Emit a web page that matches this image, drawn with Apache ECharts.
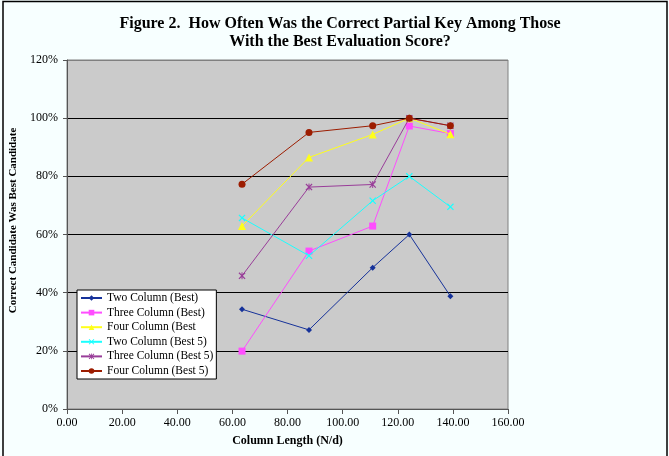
<!DOCTYPE html>
<html>
<head>
<meta charset="utf-8">
<script src="https://cdn.jsdelivr.net/npm/echarts@6/dist/echarts.min.js"></script>
<style>
html,body{margin:0;padding:0;background:#f7ffff;}
#chart{width:669px;height:456px;}
</style>
</head>
<body>
<div id="chart"></div>
<script>
const titleText = 'Figure 2.  How Often Was the Correct Partial Key Among Those\nWith the Best Evaluation Score?';
const xName = 'Column Length (N/d)';
const yName = 'Correct Candidate Was Best Candidate';
const columnLengths = [63.5, 87.8, 110.9, 124.2, 139.1];
const seriesNames = ['Two Column (Best)', 'Three Column (Best)', 'Four Column (Best', 'Two Column (Best 5)', 'Three Column (Best 5)', 'Four Column (Best 5)'];
const twoColBest = [0.343, 0.272, 0.486, 0.60, 0.388];
const threeColBest = [0.199, 0.543, 0.629, 0.973, 0.947];
const fourColBest = [0.629, 0.865, 0.944, 1.0, 0.945];
const twoColBest5 = [0.657, 0.527, 0.716, 0.80, 0.695];
const threeColBest5 = [0.458, 0.763, 0.772, 1.0, 0.974];
const fourColBest5 = [0.773, 0.951, 0.974, 1.0, 0.974];
const xTicks = {min: 0, max: 160, interval: 20};
const yTicks = {min: 0, max: 1.2, interval: 0.2};

const colors = ['#16329a', '#ff4dff', '#ffff1a', '#1affff', '#993d99', '#9c1c00'];
const XPATH = 'path://M0,1.2L1.2,0L5,3.8L8.8,0L10,1.2L6.2,5L10,8.8L8.8,10L5,6.2L1.2,10L0,8.8L3.8,5Z';
const STARPATH = 'path://M0,1.2L1.2,0L5,3.8L8.8,0L10,1.2L6.2,5L10,8.8L8.8,10L5,6.2L1.2,10L0,8.8L3.8,5Z M4.3,0L5.7,0L5.7,10L4.3,10Z';
const symbols = ['diamond', 'rect', 'triangle', XPATH, STARPATH, 'circle'];
const sizes = [6, 7, 8, 7, 7, 7];
const allData = [twoColBest, threeColBest, fourColBest, twoColBest5, threeColBest5, fourColBest5];
const font = '"Liberation Serif", "Times New Roman", serif';

const chart = echarts.init(document.getElementById('chart'));
chart.setOption({
  animation: false,
  backgroundColor: '#f7ffff',
  textStyle: {fontFamily: font},
  title: {
    text: titleText,
    left: 340,
    textAlign: 'center',
    top: 15,
    padding: 0,
    textStyle: {fontFamily: font, fontWeight: 'bold', fontSize: 16, lineHeight: 18, color: '#000'}
  },
  graphic: [{
    type: 'rect',
    shape: {x: 3, y: 1.5, width: 664, height: 480},
    style: {fill: null, stroke: '#000', lineWidth: 1.5},
    silent: true, z: 100
  }],
  grid: {
    left: 67, right: 161, top: 60, bottom: 47,
    show: true, backgroundColor: '#cbcbcb', borderColor: '#808080', borderWidth: 1
  },
  legend: {
    orient: 'vertical',
    left: 77, top: 290,
    backgroundColor: '#fff',
    borderColor: '#000', borderWidth: 1,
    padding: [2, 3, 2, 3],
    itemWidth: 21, itemHeight: 7, itemGap: 2.6,
    textStyle: {fontFamily: font, fontSize: 11.5, lineHeight: 12, color: '#000'},
    data: seriesNames
  },
  xAxis: {
    type: 'value',
    min: xTicks.min, max: xTicks.max, interval: xTicks.interval,
    name: xName, nameLocation: 'middle', nameGap: 26,
    nameTextStyle: {fontFamily: font, fontWeight: 'bold', fontSize: 12, color: '#000'},
    axisLine: {show: true, onZero: false, lineStyle: {color: '#555', width: 1}},
    axisTick: {show: true, length: 5, lineStyle: {color: '#555'}},
    axisLabel: {margin: 8, fontFamily: font, fontSize: 12, color: '#000', formatter: v => v.toFixed(2)},
    splitLine: {show: false}
  },
  yAxis: {
    type: 'value',
    min: yTicks.min, max: yTicks.max, interval: yTicks.interval,
    name: yName, nameLocation: 'middle', nameGap: 35, nameRotate: 90,
    nameTextStyle: {fontFamily: font, fontWeight: 'bold', fontSize: 11, color: '#000', padding: [0, 0, 0, 28]},
    axisLine: {show: true, lineStyle: {color: '#555', width: 1}},
    axisTick: {show: true, length: 4, lineStyle: {color: '#555'}},
    axisLabel: {margin: 9, fontFamily: font, fontSize: 12, color: '#000', formatter: v => Math.round(v * 100) + '%'},
    splitLine: {show: true, lineStyle: {color: ['#000', '#000', '#000', '#000', '#000', '#000', '#808080'], width: 1}}
  },
  series: allData.map((arr, i) => ({
    name: seriesNames[i],
    type: 'line',
    data: arr.map((v, j) => [columnLengths[j], v]),
    symbol: symbols[i],
    symbolSize: sizes[i],
    showAllSymbol: true,
    lineStyle: {color: colors[i], width: 1},
    itemStyle: {color: colors[i], borderColor: colors[i], borderWidth: 0},
    z: 2 + i
  }))
});
</script>
</body>
</html>
